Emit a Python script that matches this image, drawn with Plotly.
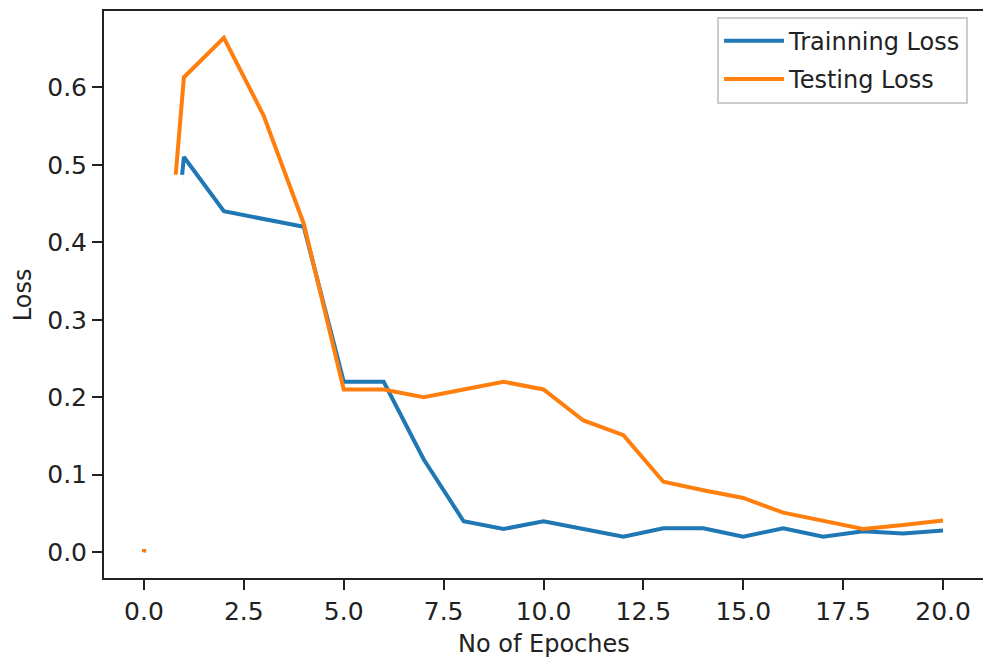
import plotly.graph_objects as go

epochs = list(range(0, 21))
train_loss = [0.0, 0.51, 0.44, 0.43, 0.42, 0.22, 0.22, 0.12, 0.04, 0.03, 0.04,
              0.03, 0.02, 0.031, 0.031, 0.02, 0.031, 0.02, 0.027, 0.024, 0.028]
test_loss = [0.0, 0.613, 0.664, 0.563, 0.424, 0.21, 0.21, 0.2, 0.21, 0.22, 0.21,
             0.17, 0.151, 0.091, 0.08, 0.07, 0.051, 0.041, 0.03, 0.035, 0.041]
x_ticks = [0, 2.5, 5, 7.5, 10, 12.5, 15, 17.5, 20]
y_ticks = [0.0, 0.1, 0.2, 0.3, 0.4, 0.5, 0.6]

FONT = "DejaVu Sans"

fig = go.Figure()
fig.add_trace(go.Scatter(x=epochs, y=train_loss, mode="lines", name="Trainning Loss",
                         legendgroup="a",
                         line=dict(color="#1f77b4", width=4)))
fig.add_trace(go.Scatter(x=epochs, y=test_loss, mode="lines", name="Testing Loss",
                         legendgroup="b",
                         line=dict(color="#ff7f0e", width=4)))

# white mask reproducing the erased region of the original picture
fig.add_shape(type="rect", xref="x", yref="y", x0=-0.3, x1=1.0, y0=0.004, y1=0.487,
              fillcolor="white", line=dict(width=0), layer="above")

axis_common = dict(showgrid=False, zeroline=False, showline=True, linecolor="#222",
                   linewidth=2, mirror=True, ticks="outside", ticklen=10, tickwidth=2,
                   tickcolor="#222", tickfont=dict(family=FONT, size=25, color="#222"))

fig.update_xaxes(range=[-1, 21], tickvals=x_ticks,
                 ticktext=[f"{v:.1f}" for v in x_ticks], **axis_common)
fig.update_yaxes(range=[-0.0333, 0.6985], tickvals=y_ticks,
                 ticktext=[f"{v:.1f}" for v in y_ticks], **axis_common)

fig.add_annotation(text="Loss", xref="paper", yref="paper", x=-0.0925, y=0.5,
                   xanchor="center", yanchor="middle",
                   textangle=-90, showarrow=False,
                   font=dict(family=FONT, size=24, color="#222"))
fig.add_annotation(text="No of Epoches", xref="paper", yref="paper", x=0.5, y=-0.117,
                   xanchor="center", yanchor="middle",
                   showarrow=False, font=dict(family=FONT, size=24, color="#222"))

# the page body has an 8px margin; figure size/margins compensate for it
fig.update_layout(
    width=983, height=660,
    margin=dict(l=96, r=8, t=1, b=90),
    plot_bgcolor="white", paper_bgcolor="white",
    legend=dict(x=0.983, y=0.99, xanchor="right", yanchor="top",
                bgcolor="white", bordercolor="#cccccc", borderwidth=2,
                font=dict(family=FONT, size=24, color="#222"),
                itemwidth=60, tracegroupgap=4),
    showlegend=True,
)

fig.write_html("out.html")
